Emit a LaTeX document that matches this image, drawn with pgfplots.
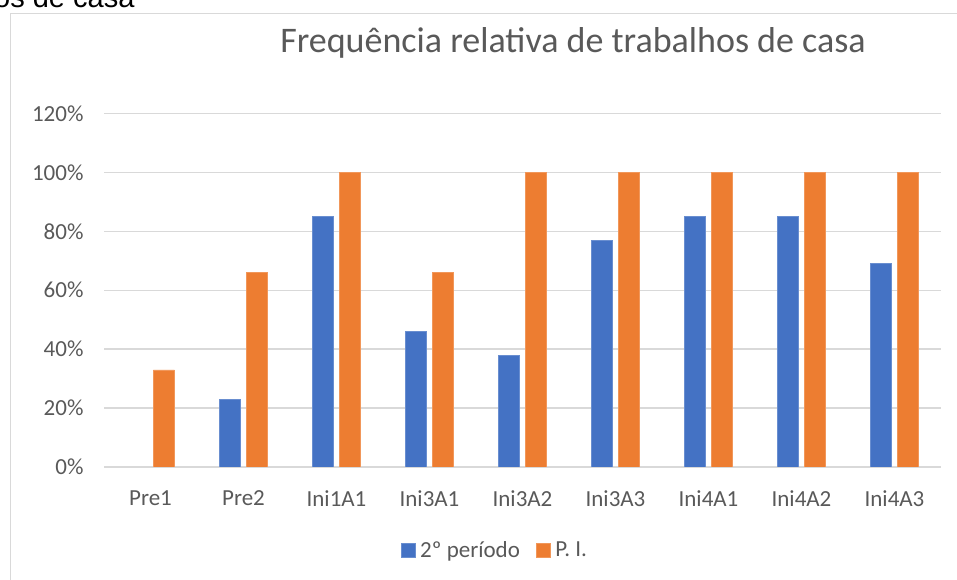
\documentclass[border=0pt]{standalone}
\usepackage{fontspec}
\setmainfont{Carlito}
\newfontfamily\arialfont{Liberation Sans}
\usepackage{pgfplots}
\pgfplotsset{compat=1.18}
\definecolor{cblue}{HTML}{4472C4}
\definecolor{corange}{HTML}{ED7D31}
\definecolor{ctext}{HTML}{595959}
\definecolor{cgrid}{HTML}{D9D9D9}
\begin{document}
\begin{tikzpicture}
\draw[cgrid, line width=1.3pt] (10.5pt,-20pt) -- (10.5pt,566.5pt) -- (1000pt,566.5pt);
\node[anchor=base west, inner sep=0pt, font=\arialfont\fontsize{29}{30}\selectfont] at (-6pt,572pt) {os de casa};
\node[anchor=base, inner sep=0pt, text=ctext, font=\fontsize{36}{40}\selectfont] at (573pt,527pt) {Frequência relativa de trabalhos de casa};
\begin{axis}[
  at={(104pt,113pt)}, anchor=south west,
  scale only axis, width=837pt, height=353.6pt,
  ybar=5.7pt, bar width=21pt,
  xmin=-0.5, xmax=8.5, ymin=0, ymax=120,
  xtick={0,...,8},
  xticklabels={Pre1,Pre2,Ini1A1,Ini3A1,Ini3A2,Ini3A3,Ini4A1,Ini4A2,Ini4A3},
  ytick={0,20,...,120},
  yticklabel={\pgfmathprintnumber{\tick}\%},
  /pgf/number format/assume math mode=true,
  major tick length=0pt,
  axis line style={draw=none},
  ymajorgrids, grid style={cgrid, line width=1.3pt},
  tick label style={text=ctext, font=\fontsize{23}{26}\selectfont},
  yticklabel style={xshift=-17pt},
  xticklabel style={yshift=-20pt},
  legend style={at={(0.467,-0.235)}, anchor=center, draw=none, legend columns=2,
    font=\fontsize{23}{26}\selectfont, text=ctext,
    /tikz/every odd column/.append style={column sep=3pt},
    /tikz/every even column/.append style={column sep=14pt}},
  legend image code/.code={\fill[#1] (0pt,-7pt) rectangle (14pt,7pt);},
]
\addplot[fill=cblue, draw=cblue!80!white, line width=0.5pt] coordinates {(1,23) (2,85) (3,46) (4,38) (5,77) (6,85) (7,85) (8,69)};
\addplot[fill=corange, draw=corange!80!white, line width=0.5pt] coordinates {(0,33) (1,66) (2,100) (3,66) (4,100) (5,100) (6,100) (7,100) (8,100)};
\legend{2º período, P. I.}
\end{axis}
\pgfresetboundingbox
\useasboundingbox (0pt,0pt) rectangle (957pt,580pt);
\end{tikzpicture}
\end{document}
